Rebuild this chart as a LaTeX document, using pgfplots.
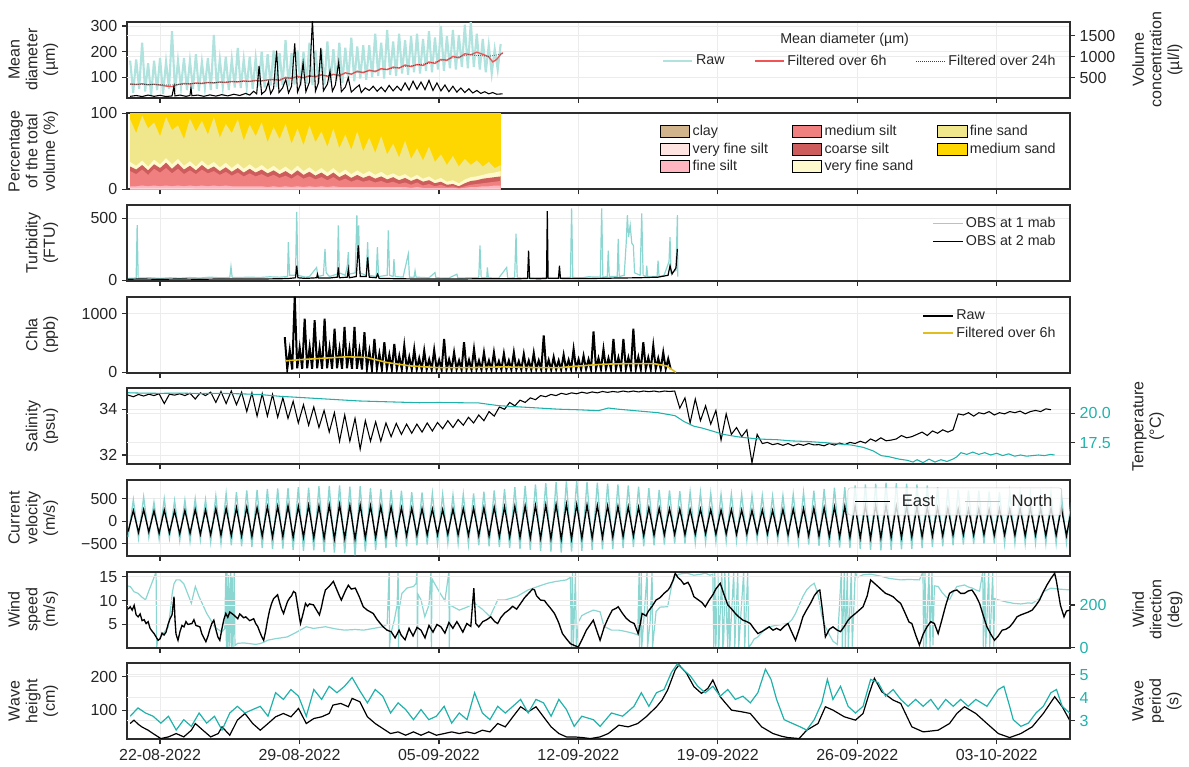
\documentclass[border=0pt]{standalone}
\usepackage{fontspec}
\setmainfont{Liberation Sans}
\usepackage{pgfplots}
\usepackage{pgfplotstable}
\pgfplotsset{compat=1.18}

\definecolor{txt}{RGB}{38,38,38}
\definecolor{frame}{RGB}{45,45,45}
\definecolor{gridc}{RGB}{236,236,236}
\definecolor{rawteal}{RGB}{176,226,222}
\definecolor{lteal}{RGB}{140,214,209}
\definecolor{teal2}{RGB}{32,178,170}
\definecolor{redf}{RGB}{240,85,85}
\definecolor{chlay}{RGB}{225,190,30}
\definecolor{clay}{RGB}{210,180,140}
\definecolor{vfsilt}{RGB}{255,228,225}
\definecolor{fsilt}{RGB}{255,182,193}
\definecolor{msilt}{RGB}{240,128,128}
\definecolor{csilt}{RGB}{205,92,92}
\definecolor{vfsand}{RGB}{255,250,205}
\definecolor{fsand}{RGB}{240,230,140}
\definecolor{msand}{RGB}{255,215,0}

\pgfplotsset{
  base/.style={
    scale only axis, width=707.25pt, height=57pt,
    xmin=-1.66, xmax=45.68,
    tick align=outside, major tick length=3.75pt,
    axis line style={draw=frame, line width=1.5pt},
    every tick/.style={draw=frame, line width=0.9pt},
    major grid style={draw=gridc, line width=0.6pt},
    tick label style={font=\fontsize{12}{14}\selectfont, text=txt},
    /pgf/number format/assume math mode=true,
    /pgf/number format/1000 sep={},
    label style={font=\fontsize{12}{13.2}\selectfont, text=txt, align=center},
    legend style={font=\fontsize{10.7}{13}\selectfont, text=txt, draw=none, fill=none},
    legend cell align=left,
  },
  lpanel/.style={base,
    xtick={0,7,...,42}, xticklabels={},
    xtick pos=bottom, ytick pos=left,
    xmajorgrids, ymajorgrids,
    extra y tick labels={},
    extra tick style={grid=major, major tick length=0pt},
    ylabel style={at={(rel axis cs:-0.068,0.5)}, anchor=south},
  },
  rpanel/.style={base,
    axis x line=none, axis y line*=right,
    ylabel style={at={(rel axis cs:1.061,0.5)}, anchor=north},
  },
  lineleg/.style={legend image code/.code={\draw[##1] (0pt,0pt) -- (22pt,0pt);}},
  patchleg/.style={legend image code/.code={\fill[##1] (0pt,-4.5pt) rectangle (22pt,4.5pt);}},
}

% grain-size classes, cumulative tops (%): fine silt, medium silt, coarse silt, very fine sand, fine sand
\pgfplotstableread{
t c d e f g
-1.5 4 24 30 36 92
-1.2 4 20 26 31 74
-0.9 5 26 32 38 97
-0.6 4 19 25 30 80
-0.3 5 27 33 39 88
0.0 4 22 28 33 70
0.3 5 28 35 41 95
0.6 4 21 27 33 78
0.9 5 27 34 40 84
1.2 4 20 26 31 66
1.5 5 25 31 37 93
1.8 4 20 25 30 76
2.1 5 26 32 38 90
2.4 4 21 26 31 72
2.7 5 24 30 36 95
3.0 4 19 24 29 68
3.3 5 23 29 35 86
3.6 4 18 23 28 74
3.9 4 22 28 34 92
4.2 4 17 22 27 64
4.5 4 21 27 33 85
4.8 4 17 22 27 70
5.1 4 20 26 32 88
5.4 3 16 21 26 62
5.7 4 19 25 31 82
6.0 3 15 20 25 66
6.3 4 18 24 30 86
6.6 3 14 19 24 60
6.9 4 19 25 31 80
7.2 3 14 19 24 58
7.5 4 17 23 29 84
7.8 3 13 18 23 62
8.1 4 16 22 28 76
8.4 3 12 17 22 56
8.7 4 16 22 28 80
9.0 3 11 16 21 54
9.3 3 14 20 26 72
9.6 3 10 15 20 52
9.9 3 13 19 25 76
10.2 3 10 15 20 50
10.5 3 12 18 24 68
10.8 3 9 14 19 48
11.1 3 11 17 23 70
11.4 3 8 13 18 46
11.7 3 10 16 21 60
12.0 3 7 12 17 42
12.3 3 9 15 20 64
12.6 2 6 11 15 40
12.9 3 9 14 19 54
13.2 2 5 10 14 38
13.5 2 7 12 17 56
13.8 2 4 8 12 36
14.1 2 6 10 15 46
14.4 2 3 6 10 32
14.7 2 4 7 12 44
15.0 1 2 4 8 30
15.3 2 4 8 13 40
15.6 3 6 11 16 32
15.9 3 7 12 17 38
16.2 4 8 14 19 30
16.5 4 9 15 21 36
16.8 5 10 16 22 28
17.1 5 11 17 24 32
}\psd

% tidal currents, one row per half tidal cycle
\pgfplotstableread{
N E
-350 -230
480 240
-380 -250
540 260
-360 -240
420 230
-400 -270
500 250
-380 -260
460 230
-430 -280
470 240
-450 -270
500 260
-420 -290
480 250
-470 -300
560 280
-500 -310
620 290
-540 -320
650 300
-560 -330
690 310
-580 -340
700 300
-600 -330
720 320
-620 -350
730 330
-610 -340
740 340
-640 -360
760 330
-660 -350
750 350
-650 -370
780 340
-690 -380
790 360
-700 -390
800 370
-720 -380
770 350
-760 -400
780 360
-680 -370
740 340
-640 -360
720 330
-600 -340
700 320
-580 -330
680 300
-560 -320
650 290
-540 -310
640 280
-520 -300
620 270
-500 -300
600 260
-490 -290
580 270
-500 -300
600 280
-520 -310
620 290
-540 -320
660 300
-560 -330
690 310
-580 -340
720 320
-600 -350
760 330
-620 -360
790 340
-640 -370
820 350
-660 -380
850 360
-680 -390
870 370
-700 -400
890 380
-680 -390
900 370
-660 -380
880 360
-640 -370
860 350
-630 -360
840 340
-620 -350
820 330
-600 -340
800 320
-580 -330
770 310
-560 -320
740 300
-540 -310
700 290
-520 -300
690 280
-500 -290
670 270
-500 -300
650 260
-480 -290
640 270
-470 -280
620 260
-460 -290
600 250
-450 -280
610 260
-440 -290
600 250
-430 -280
580 240
-420 -270
570 250
-420 -280
560 240
-430 -290
570 260
-450 -300
600 270
-480 -310
640 280
-520 -320
680 290
-550 -330
720 300
-570 -340
750 320
-590 -350
760 330
-600 -360
800 340
-620 -370
820 350
-640 -380
840 360
-650 -370
860 350
-640 -360
850 340
-630 -360
840 330
-620 -350
820 320
-600 -340
800 310
-580 -330
760 300
-560 -320
720 290
-540 -310
700 280
-520 -300
690 270
-510 -310
680 280
-500 -300
660 270
-500 -310
650 280
-500 -300
640 270
-490 -310
620 280
-500 -320
610 290
-490 -310
600 280
-500 -320
620 290
-500 -310
600 300
-480 -320
560 280
}\cur

\begin{document}
\begin{tikzpicture}
\useasboundingbox (0,0) rectangle (891.75pt,575.25pt);

%------------------------------------------------ mean diameter
\begin{axis}[lpanel, at={(95.25pt,501.98pt)}, anchor=south west,
  ymin=20.6, ymax=317, ytick={100,200,300},
  extra y ticks={97.94,179.86,261.79},
  ylabel={Mean\\diameter\\(µm)}, lineleg,
  legend columns=3,
  legend style={at={(0.992,0.483)}, anchor=east,
    /tikz/every even column/.append style={column sep=20pt}}]
\addplot[rawteal, line width=1.6pt] table[row sep=\\, x expr={-1.5+0.15*\coordindex}, y index=0] {
d\\ 165\\ 40\\ 170\\ 55\\ 235\\ 45\\ 155\\ 30\\ 165\\ 50\\
175\\ 35\\ 160\\ 55\\ 280\\ 45\\ 165\\ 60\\ 175\\ 50\\
165\\ 55\\ 190\\ 48\\ 160\\ 60\\ 175\\ 50\\ 265\\ 55\\
170\\ 62\\ 180\\ 50\\ 170\\ 60\\ 215\\ 58\\ 170\\ 62\\
180\\ 55\\ 175\\ 65\\ 200\\ 60\\ 190\\ 68\\ 205\\ 62\\
195\\ 70\\ 245\\ 65\\ 195\\ 72\\ 205\\ 68\\ 200\\ 75\\
235\\ 70\\ 205\\ 78\\ 210\\ 72\\ 240\\ 80\\ 210\\ 85\\
235\\ 78\\ 215\\ 90\\ 255\\ 85\\ 220\\ 95\\ 225\\ 90\\
225\\ 100\\ 270\\ 105\\ 235\\ 95\\ 285\\ 110\\ 240\\ 105\\
270\\ 115\\ 245\\ 110\\ 260\\ 120\\ 270\\ 115\\ 250\\ 125\\
280\\ 120\\ 255\\ 130\\ 300\\ 125\\ 260\\ 135\\ 285\\ 130\\
265\\ 140\\ 305\\ 135\\ 315\\ 140\\ 270\\ 130\\ 250\\ 120\\
225\\ 115\\ 210\\ 130\\ 230\\
};
\addplot[redf, line width=1pt] coordinates {
(-1.5,74)(-1.2,72)(-0.9,75)(-0.6,71)(-0.3,73)(0,70)(0.3,66)(0.6,64)(0.9,72)(1.2,76)
(1.5,74)(1.8,78)(2.1,76)(2.4,80)(2.7,78)(3.0,82)(3.3,80)(3.6,84)(3.9,82)(4.2,86)
(4.5,84)(4.8,88)(5.1,86)(5.4,90)(5.7,92)(6.0,88)(6.3,100)(6.6,96)(6.9,104)(7.2,98)
(7.5,106)(7.8,102)(8.1,110)(8.4,104)(8.7,112)(9.0,106)(9.3,118)(9.6,112)(9.9,124)(10.2,118)
(10.5,128)(10.8,122)(11.1,134)(11.4,130)(11.7,140)(12.0,136)(12.3,148)(12.6,142)(12.9,150)(13.2,146)
(13.5,160)(13.8,154)(14.1,170)(14.4,166)(14.7,182)(15.0,176)(15.3,192)(15.6,188)(15.9,198)(16.2,190)
(16.5,180)(16.7,160)(16.9,170)(17.1,190)(17.2,196)};
\addplot[black!75, densely dotted, line width=0.5pt] coordinates {
(-1.5,73)(-0.5,72)(0.5,70)(1.5,75)(2.5,79)(3.5,82)(4.5,85)(5.5,89)(6.5,97)(7.5,103)
(8.5,108)(9.5,115)(10.5,124)(11.5,133)(12.5,144)(13.5,155)(14.5,172)(15.5,188)(16.5,182)(17.2,192)};
\addlegendimage{rawteal, line width=0.9pt}
\addlegendentry{Raw}
\addlegendimage{redf, line width=1pt}
\addlegendentry{Filtered over 6h}
\addlegendimage{black!75, densely dotted, line width=0.5pt}
\addlegendentry{Filtered over 24h}
\node[font=\fontsize{10.7}{13}\selectfont, text=txt] at (rel axis cs:0.761,0.76) {Mean diameter (µm)};
\end{axis}
\begin{axis}[rpanel, at={(95.25pt,501.98pt)}, anchor=south west,
  ymin=28, ymax=1837, ytick={500,1000,1500},
  ylabel={Volume\\concentration\\(µl/l)}]
\addplot[black, line width=0.8pt] coordinates {
(-1.5,60)(-1.2,80)(-0.9,55)(-0.6,90)(-0.3,60)(0,85)(0.3,55)(0.6,70)(0.7,300)(0.75,70)
(1.0,90)(1.3,60)(1.5,80)(1.55,270)(1.6,75)(1.9,90)(2.2,60)(2.5,95)(2.8,65)(3.1,100)
(3.4,70)(3.7,110)(4.0,80)(4.3,130)(4.5,90)(4.7,180)(4.85,120)(4.97,783)(5.1,110)(5.3,200)
(5.44,400)(5.55,120)(5.7,250)(5.85,1150)(5.97,150)(6.15,260)(6.31,460)(6.45,140)(6.6,300)(6.76,1320)
(6.9,160)(7.05,350)(7.18,860)(7.32,170)(7.5,400)(7.65,1900)(7.72,1050)(7.8,180)(7.95,380)(8.07,1210)
(8.2,190)(8.4,350)(8.53,660)(8.65,180)(8.8,330)(8.97,880)(9.1,170)(9.3,280)(9.45,500)(9.6,160)
(9.8,250)(10.0,330)(10.1,150)(10.3,260)(10.5,200)(10.7,300)(10.9,180)(11.1,280)(11.3,170)(11.5,320)
(11.7,190)(11.9,300)(12.1,200)(12.3,380)(12.5,210)(12.7,420)(12.9,230)(13.1,400)(13.3,220)(13.5,440)
(13.7,200)(13.9,380)(14.1,190)(14.3,330)(14.5,170)(14.7,300)(14.9,160)(15.1,260)(15.3,150)(15.5,240)
(15.7,140)(15.9,200)(16.1,130)(16.3,170)(16.5,120)(16.7,150)(16.9,110)(17.2,120)};
\end{axis}

%------------------------------------------------ grain size distribution
\begin{axis}[lpanel, at={(95.25pt,433.24pt)}, anchor=south west,
  ymin=0, ymax=100, ytick={0,100},
  ylabel={Percentage\\of the total\\volume (\%)}, patchleg,
  legend columns=3, transpose legend,
  legend style={at={(0.992,0.92)}, anchor=north east,
    /tikz/every even column/.append style={column sep=16pt},
    /tikz/every row/.append style={row sep=2.5pt}}]
\addplot[fill=msand, draw=none, forget plot] coordinates {(-1.5,100)(17.1,100)} \closedcycle;
\addplot[fill=fsand, draw=none, forget plot] table[x=t, y=g] {\psd} \closedcycle;
\addplot[fill=vfsand, draw=none, forget plot] table[x=t, y=f] {\psd} \closedcycle;
\addplot[fill=csilt, draw=none, forget plot] table[x=t, y=e] {\psd} \closedcycle;
\addplot[fill=msilt, draw=none, forget plot] table[x=t, y=d] {\psd} \closedcycle;
\addplot[fill=fsilt, draw=none, forget plot] table[x=t, y=c] {\psd} \closedcycle;
\addplot[fill=vfsilt, draw=none, forget plot] coordinates {(-1.5,1.2)(5,1.0)(10,0.9)(15,0.6)(17.1,1.0)} \closedcycle;
\addplot[fill=clay, draw=none, forget plot] coordinates {(-1.5,0.4)(5,0.3)(10,0.3)(15,0.2)(17.1,0.3)} \closedcycle;
\addlegendimage{fill=clay}\addlegendentry{clay}
\addlegendimage{fill=vfsilt}\addlegendentry{very fine silt}
\addlegendimage{fill=fsilt}\addlegendentry{fine silt}
\addlegendimage{fill=msilt}\addlegendentry{medium silt}
\addlegendimage{fill=csilt}\addlegendentry{coarse silt}
\addlegendimage{fill=vfsand}\addlegendentry{very fine sand}
\addlegendimage{fill=fsand}\addlegendentry{fine sand}
\addlegendimage{fill=msand}\addlegendentry{medium sand}
\end{axis}

%------------------------------------------------ turbidity
\begin{axis}[lpanel, at={(95.25pt,364.50pt)}, anchor=south west,
  ymin=-6, ymax=608, ytick={0,500},
  ylabel={Turbidity\\(FTU)}, lineleg,
  legend style={at={(0.992,0.91)}, anchor=north east}]
\addplot[lteal, line width=0.9pt] coordinates {
(-1.6,15)(-1.2,18)(-1.15,445)(-1.1,18)(-0.5,20)(0,15)(0.5,20)(1,16)(1.5,22)(2,18)
(2.5,25)(3,20)(3.5,22)(3.56,110)(3.62,22)(4,22)(4.5,25)(5,22)(5.5,28)(6,25)
(6.4,30)(6.44,308)(6.5,40)(6.8,40)(6.86,553)(6.92,40)(7.3,25)(7.5,30)(7.86,103)(7.92,30)
(8.2,40)(8.28,253)(8.34,60)(8.5,30)(8.9,50)(8.95,444)(9.0,60)(9.3,40)(9.4,120)(9.45,226)
(9.5,50)(9.8,60)(9.88,526)(9.93,200)(9.97,444)(10.02,60)(10.35,40)(10.42,308)(10.48,40)(10.85,30)
(10.91,267)(10.97,30)(11.4,40)(11.46,403)(11.52,40)(11.7,30)(11.74,171)(11.8,30)(12.2,25)(12.46,212)
(12.52,25)(12.75,25)(12.8,76)(12.85,25)(13.5,20)(13.8,62)(13.85,20)(14.5,18)(14.9,49)(14.95,18)
(15.5,20)(16.0,20)(16.06,281)(16.12,20)(16.4,20)(16.43,103)(16.48,20)(17.0,18)(17.4,103)(17.45,18)
(17.8,20)(17.87,376)(17.93,20)(18.5,18)(19,20)(19.5,22)(20,20)(20.6,22)(20.66,581)(20.72,22)
(21.2,20)(21.5,28)(22.1,25)(22.17,581)(22.23,25)(22.45,30)(22.5,240)(22.55,30)(22.95,30)(23.0,335)
(23.05,30)(23.3,40)(23.4,300)(23.46,526)(23.52,350)(23.6,444)(23.68,300)(23.76,281)(23.82,60)(24.1,40)
(24.18,540)(24.25,40)(24.4,30)(24.43,117)(24.48,30)(24.95,30)(25.0,158)(25.05,30)(25.3,40)(25.55,150)
(25.6,349)(25.65,60)(25.9,80)(25.97,526)(25.99,30)};
\addlegendentry{OBS at 1 mab}
\addplot[black, line width=0.9pt] coordinates {
(-1.6,8)(-1,10)(0,8)(1,10)(2,8)(3,10)(4,10)(5,10)(6,12)(6.5,15)
(6.8,20)(6.86,117)(6.92,20)(7.3,15)(7.86,20)(7.9,49)(7.95,18)(8.5,18)(8.9,25)(8.95,103)
(9.0,20)(9.4,25)(9.45,90)(9.5,20)(9.85,30)(9.95,281)(10.05,30)(10.35,30)(10.42,185)(10.5,25)
(10.85,20)(10.92,49)(11.0,15)(12,12)(13,10)(14,10)(15,10)(16,12)(17,12)(18,12)
(18.45,15)(18.5,240)(18.55,15)(19,12)(19.4,15)(19.44,559)(19.48,15)(20.0,15)(20.05,117)(20.1,15)
(21,14)(22,15)(23,18)(24,20)(25,25)(25.5,40)(25.6,117)(25.7,50)(25.9,100)(25.97,253)};
\addlegendentry{OBS at 2 mab}
\end{axis}

%------------------------------------------------ chlorophyll
\begin{axis}[lpanel, at={(95.25pt,295.76pt)}, anchor=south west,
  ymin=-5, ymax=1290, ytick={0,1000},
  ylabel={Chla\\(ppb)}, lineleg,
  legend style={at={(0.992,0.90)}, anchor=north east}]
\addplot[black, line width=1.5pt] table[row sep=\\, x expr={6.26+0.125*\coordindex}, y index=0] {
c\\ 600\\ 60\\ 380\\ 50\\ 1290\\ 70\\ 420\\ 60\\ 916\\ 70\\ 430\\ 60\\ 887\\ 70\\ 420\\ 60\\
916\\ 70\\ 420\\ 60\\ 743\\ 70\\ 400\\ 60\\ 772\\ 70\\ 400\\ 60\\ 772\\ 60\\ 380\\ 50\\
686\\ 60\\ 360\\ 50\\ 571\\ 60\\ 320\\ 50\\ 513\\ 60\\ 300\\ 50\\ 484\\ 55\\ 280\\ 50\\
455\\ 55\\ 260\\ 50\\ 398\\ 50\\ 240\\ 45\\ 369\\ 50\\ 220\\ 45\\ 380\\ 50\\ 210\\ 45\\
571\\ 50\\ 220\\ 45\\ 340\\ 50\\ 200\\ 45\\ 513\\ 50\\ 210\\ 45\\ 398\\ 50\\ 200\\ 45\\
340\\ 50\\ 200\\ 45\\ 340\\ 50\\ 190\\ 45\\ 320\\ 50\\ 200\\ 45\\ 340\\ 50\\ 190\\ 45\\
312\\ 50\\ 200\\ 45\\ 330\\ 50\\ 200\\ 45\\ 628\\ 50\\ 210\\ 45\\ 260\\ 50\\ 200\\ 45\\
300\\ 55\\ 210\\ 50\\ 398\\ 55\\ 220\\ 50\\ 283\\ 55\\ 220\\ 50\\ 697\\ 60\\ 240\\ 55\\
398\\ 60\\ 240\\ 55\\ 571\\ 60\\ 250\\ 55\\ 571\\ 60\\ 250\\ 55\\ 743\\ 60\\ 260\\ 55\\
513\\ 60\\ 250\\ 55\\ 455\\ 60\\ 240\\ 55\\ 340\\ 60\\ 230\\ 55\\
};
\addlegendentry{Raw}
\addplot[chlay, line width=1.2pt] coordinates {
(6.33,197)(7,215)(8.03,237)(9.37,265)(10.37,254)(11.38,168)(12.55,110)(13.89,81)(15.56,81)(17.24,93)
(18.91,81)(20.08,81)(21.08,110)(22.26,139)(23.6,150)(24.77,150)(25.43,110)(25.85,12)(25.9,0)};
\addlegendentry{Filtered over 6h}
\end{axis}

%------------------------------------------------ salinity / temperature
\begin{axis}[lpanel, at={(95.25pt,227.03pt)}, anchor=south west,
  ymin=31.59, ymax=34.92, ytick={32,34},
  extra y ticks={32.537,33.824},
  ylabel={Salinity\\(psu)}]
\addplot[black, line width=0.8pt] table[row sep=\\, x expr={-1.6+0.2588*\coordindex}, y index=0] {
s\\ 34.62\\ 34.55\\ 34.65\\ 34.58\\ 34.66\\ 34.60\\ 34.68\\ 34.25\\ 34.66\\ 34.62\\
34.68\\ 34.60\\ 34.70\\ 34.45\\ 34.72\\ 34.60\\ 34.75\\ 34.30\\ 34.78\\ 34.25\\
34.80\\ 34.20\\ 34.75\\ 33.90\\ 34.72\\ 33.70\\ 34.68\\ 33.70\\ 34.65\\ 33.65\\
34.50\\ 33.60\\ 34.35\\ 33.40\\ 34.20\\ 33.30\\ 34.10\\ 33.20\\ 33.95\\ 33.00\\
33.85\\ 32.60\\ 33.75\\ 32.60\\ 33.60\\ 32.25\\ 33.50\\ 32.60\\ 33.45\\ 32.60\\
33.40\\ 32.80\\ 33.38\\ 32.90\\ 33.35\\ 32.95\\ 33.35\\ 33.00\\ 33.40\\ 33.05\\
33.42\\ 33.15\\ 33.50\\ 33.20\\ 33.55\\ 33.30\\ 33.65\\ 33.40\\ 33.75\\ 33.50\\
33.90\\ 33.70\\ 34.10\\ 34.00\\ 34.30\\ 34.15\\ 34.40\\ 34.30\\ 34.50\\ 34.42\\
34.60\\ 34.55\\ 34.65\\ 34.60\\ 34.70\\ 34.65\\ 34.72\\ 34.68\\ 34.75\\ 34.70\\
34.76\\ 34.72\\ 34.78\\ 34.74\\ 34.78\\ 34.75\\ 34.80\\ 34.76\\ 34.80\\ 34.76\\
34.80\\ 34.77\\ 34.80\\ 34.76\\ 34.80\\ 34.78\\ 34.80\\ 34.05\\ 34.50\\ 33.40\\
34.45\\ 33.50\\ 34.15\\ 33.35\\ 33.95\\ 32.65\\ 33.80\\ 32.90\\ 33.20\\ 32.80\\
33.10\\ 31.65\\ 32.90\\ 32.50\\ 32.55\\ 32.45\\ 32.50\\ 32.42\\ 32.50\\ 32.40\\
32.48\\ 32.42\\ 32.50\\ 32.44\\ 32.45\\ 32.40\\ 32.50\\ 32.43\\ 32.52\\ 32.45\\
32.55\\ 32.50\\ 32.60\\ 32.52\\ 32.70\\ 32.60\\ 32.75\\ 32.62\\ 32.65\\ 32.70\\
32.85\\ 32.75\\ 32.80\\ 32.90\\ 33.00\\ 32.85\\ 33.05\\ 32.95\\ 33.10\\ 33.00\\
33.10\\ 33.80\\ 33.75\\ 33.85\\ 33.70\\ 33.85\\ 33.80\\ 33.90\\ 33.75\\ 33.85\\
33.80\\ 33.90\\ 33.85\\ 33.92\\ 33.80\\ 33.90\\ 33.95\\ 33.90\\ 34.02\\ 33.98\\
};
\end{axis}
\begin{axis}[rpanel, at={(95.25pt,227.03pt)}, anchor=south west,
  ymin=15.66, ymax=22.13, ytick={17.5,20}, yticklabels={17.5,20.0},
  yticklabel style={text=teal2},
  ylabel={Temperature\\(°C)}]
\addplot[teal2, line width=0.8pt] coordinates {
(-1.6,21.75)(-1,21.72)(0,21.7)(1,21.72)(2,21.68)(3,21.7)(4,21.66)(5,21.6)(6,21.45)(7,21.35)
(8,21.25)(9,21.15)(10,21.05)(11,21.0)(12,20.95)(13,20.9)(14,20.92)(15,20.9)(16,20.88)(17,20.65)
(18,20.55)(19,20.45)(20,20.35)(21,20.3)(22,20.22)(22.5,20.45)(23,20.35)(24,20.2)(25,20.05)(25.85,19.8)
(26.3,19.3)(26.8,18.9)(27.2,18.75)(27.7,18.5)(28.3,18.2)(29,18.0)(29.5,17.9)(30.2,17.8)(31,17.75)(31.7,17.65)
(32.5,17.6)(33.4,17.5)(34,17.4)(34.7,17.3)(35.3,17.1)(35.8,16.8)(36.2,16.4)(36.6,16.3)(37.1,16.1)(37.5,16.0)
(37.8,15.85)(38.0,16.05)(38.3,15.8)(38.6,16.1)(38.9,15.85)(39.2,16.05)(39.5,15.9)(39.8,16.1)(40.0,16.3)(40.2,16.65)
(40.5,16.5)(40.8,16.7)(41.1,16.5)(41.4,16.65)(41.7,16.45)(42.0,16.6)(42.3,16.4)(42.6,16.55)(42.9,16.35)(43.2,16.45)
(43.5,16.35)(43.8,16.4)(44.1,16.45)(44.4,16.4)(44.7,16.5)(44.9,16.45)};
\end{axis}

%------------------------------------------------ current velocity
\begin{axis}[lpanel, at={(95.25pt,158.29pt)}, anchor=south west,
  ymin=-776, ymax=922, ytick={-500,0,500}, yticklabels={−500,0,500},
  ylabel={Current\\velocity\\(m/s)},
  legend columns=2,
  legend style={at={(0.9915,0.90)}, anchor=north east, draw=black!20, fill=white,
    fill opacity=0.8, draw opacity=1, text opacity=1, rounded corners=2pt,
    font=\fontsize{12.5}{14}\selectfont, inner xsep=5pt, inner ysep=3pt,
    /tikz/every odd column/.append style={column sep=6pt},
    /tikz/every even column/.append style={column sep=20pt}},
  legend image code/.code={\draw[#1, line width=1.4pt, opacity=1] (0pt,0pt) -- (26pt,0pt);}]
\addplot[lteal, line width=1pt, forget plot] table[x expr={-1.6+0.2588*\coordindex}, y=N] {\cur};
\addplot[black, line width=1pt] table[x expr={-1.6+0.2588*\coordindex}, y=E] {\cur};
\addlegendentry{East}
\addlegendimage{lteal}
\addlegendentry{North}
\end{axis}

%------------------------------------------------ wind (direction drawn first, speed on top)
\begin{axis}[rpanel, at={(95.25pt,89.55pt)}, anchor=south west,
  ymin=0, ymax=357, ytick={0,200},
  yticklabel style={text=teal2},
  ylabel={Wind\\direction\\(deg)}]
\addplot[lteal, line width=0.9pt] coordinates {
(-1.66,290)(-1.5,287)(-1.3,262)(-1.11,255)(-0.92,238)(-0.73,224)(-0.55,270)(-0.35,318)(-0.2,356)(-0.17,2)
(-0.12,30)(0.04,50)(0.23,75)(0.42,98)(0.55,200)(0.61,255)(0.7,300)(0.81,318)(1.0,318)(1.19,300)
(1.38,255)(1.57,208)(1.77,287)(1.96,239)(2.15,200)(2.34,161)(2.54,130)(2.73,98)(2.92,85)(3.11,74)
(3.25,90)(3.3,357)(3.33,0)(3.36,355)(3.4,2)(3.45,340)(3.48,5)(3.55,350)(3.58,3)(3.62,330)
(3.66,0)(3.72,357)(3.76,10)(3.9,20)(4.2,22)(4.46,19)(4.8,15)(5.03,19)(5.2,25)(5.42,35)
(5.8,42)(6.38,50)(6.8,70)(7.34,98)(7.7,90)(8.3,98)(8.8,88)(9.26,82)(9.8,85)(10.22,82)
(10.7,90)(11.18,98)(11.4,110)(11.5,357)(11.52,0)(11.57,60)(11.76,129)(11.9,200)(11.95,357)(11.97,0)
(12.0,180)(12.14,255)(12.4,280)(12.72,287)(12.85,300)(12.9,357)(12.92,0)(12.95,250)(13.1,224)(13.29,145)
(13.5,200)(13.6,357)(13.62,0)(13.65,300)(13.68,318)(14.06,255)(14.3,220)(14.5,357)(14.52,0)(14.55,200)
(15.02,176)(15.41,190)(15.79,208)(16.18,180)(16.56,145)(16.95,224)(17.33,224)(17.91,240)(18.48,271)(19.06,290)
(19.44,302)(19.83,310)(20.4,318)(20.6,330)(20.65,0)(20.7,357)(20.75,5)(20.85,350)(20.9,0)(21.0,120)
(21.17,150)(21.36,160)(21.75,176)(22.09,168)(22.28,100)(22.66,82)(23.03,82)(23.41,75)(23.79,66)(23.98,60)
(24.05,357)(24.07,0)(24.1,80)(24.16,357)(24.18,0)(24.3,150)(24.45,357)(24.47,0)(24.6,120)(24.7,357)
(24.72,0)(24.9,170)(25.1,190)(25.48,192)(25.7,300)(25.86,334)(26.05,345)(26.43,350)(26.8,340)(27.18,345)
(27.37,350)(27.6,340)(27.75,345)(27.8,0)(27.85,350)(27.9,5)(28.0,357)(28.05,0)(28.2,355)(28.25,0)
(28.3,40)(28.35,357)(28.5,2)(28.55,350)(28.6,0)(28.8,357)(28.85,0)(29.0,355)(29.05,3)(29.3,357)
(29.35,0)(29.5,356)(29.55,0)(29.7,20)(29.82,40)(30.01,50)(30.2,70)(30.39,90)(30.58,98)(30.95,105)
(31.33,110)(31.52,113)(31.71,130)(31.9,160)(32.08,200)(32.27,240)(32.46,271)(32.65,290)(32.84,302)(33.03,250)
(33.22,150)(33.4,98)(33.6,60)(33.78,30)(34.0,15)(34.2,357)(34.25,0)(34.35,357)(34.4,0)(34.5,350)
(34.55,0)(34.7,356)(34.75,5)(34.9,357)(35.0,330)(35.29,342)(35.67,345)(36.05,338)(36.23,334)(36.6,325)
(37.18,318)(37.6,320)(38.12,318)(38.3,357)(38.33,0)(38.4,356)(38.45,0)(38.6,357)(38.65,0)(38.75,355)
(38.8,10)(38.87,290)(39.06,287)(39.25,260)(39.44,240)(39.63,224)(39.82,260)(40.0,287)(40.19,290)(40.38,294)
(40.57,285)(40.76,280)(40.95,271)(41.14,265)(41.3,357)(41.33,0)(41.4,355)(41.45,0)(41.6,357)(41.65,0)
(41.8,350)(41.85,5)(41.89,230)(42.08,224)(42.46,215)(42.83,208)(43.21,205)(43.59,210)(43.78,208)(44.15,230)
(44.34,263)(44.72,279)(45.1,275)(45.66,271)};
\end{axis}
\begin{axis}[lpanel, at={(95.25pt,89.55pt)}, anchor=south west,
  ymin=0.17, ymax=16.05, ytick={5,10,15},
  extra y ticks={9.066},
  ylabel={Wind\\speed\\(m/s)}]
\addplot[black, line width=1pt] coordinates {
(-1.6,8.2)(-1.5,8.7)(-1.4,8.0)(-1.3,9.0)(-1.2,7.0)(-1.1,6.6)(-1.0,7.2)(-0.9,5.8)(-0.8,6.0)(-0.7,5.2)
(-0.6,5.6)(-0.5,4.2)(-0.4,3.6)(-0.3,3.1)(-0.2,2.4)(-0.1,1.7)(0.0,2.0)(0.1,3.2)(0.2,2.8)(0.3,3.4)
(0.4,5.0)(0.5,6.2)(0.6,7.0)(0.7,10.8)(0.75,6.0)(0.8,3.0)(0.9,1.7)(1.0,3.5)(1.1,4.8)(1.2,4.5)
(1.3,5.6)(1.4,5.0)(1.6,5.2)(1.7,6.0)(1.8,4.8)(2.0,4.5)(2.1,3.0)(2.2,2.2)(2.3,1.4)(2.4,2.5)
(2.5,4.0)(2.6,5.2)(2.7,5.9)(2.8,4.0)(2.9,2.4)(3.0,1.7)(3.1,4.0)(3.2,6.0)(3.3,7.3)(3.4,6.5)
(3.5,7.6)(3.7,7.0)(3.9,6.2)(4.0,7.2)(4.2,6.4)(4.3,6.6)(4.5,5.8)(4.7,6.2)(4.8,5.2)(4.9,4.6)
(5.0,3.5)(5.1,2.5)(5.2,1.7)(5.3,3.6)(5.4,6.0)(5.5,8.0)(5.6,9.4)(5.7,10.4)(5.8,10.8)(5.9,11.2)
(6.0,9.6)(6.1,8.2)(6.2,7.3)(6.3,8.6)(6.4,9.8)(6.5,10.5)(6.6,11.0)(6.7,11.9)(6.8,11.6)(6.9,9.0)
(7.0,6.4)(7.05,5.2)(7.2,7.6)(7.3,9.4)(7.4,8.8)(7.5,9.3)(7.7,9.1)(7.8,8.4)(8.0,7.0)(8.1,8.6)
(8.2,10.6)(8.3,12.2)(8.5,13.0)(8.7,14.0)(8.8,13.0)(9.0,11.0)(9.1,10.1)(9.3,12.0)(9.45,13.2)(9.6,12.4)
(9.8,12.6)(10.0,10.8)(10.2,8.7)(10.4,8.0)(10.7,7.3)(10.9,6.0)(11.2,4.5)(11.4,3.8)(11.6,3.5)(11.8,2.2)
(12.0,3.8)(12.1,2.8)(12.3,1.8)(12.5,4.2)(12.7,2.6)(12.9,4.4)(13.1,3.8)(13.3,2.2)(13.5,4.8)(13.7,3.4)
(13.9,5.0)(14.1,4.5)(14.3,3.2)(14.5,5.4)(14.7,4.2)(14.9,5.6)(15.0,4.9)(15.2,3.4)(15.4,5.2)(15.6,4.6)
(15.75,12.6)(15.85,5.2)(16.0,4.5)(16.2,5.6)(16.4,6.0)(16.6,6.6)(16.8,5.6)(16.95,5.2)(17.1,6.4)(17.3,7.4)
(17.5,8.0)(17.7,8.8)(17.9,8.2)(18.1,9.4)(18.3,10.6)(18.5,11.5)(18.7,12.4)(18.8,12.2)(18.9,11.0)(19.1,10.1)
(19.3,10.0)(19.4,9.4)(19.6,8.4)(19.8,7.3)(20.0,5.5)(20.2,3.1)(20.4,2.0)(20.6,1.0)(20.8,0.6)(21.0,0.3)
(21.2,2.0)(21.4,3.8)(21.6,5.0)(21.75,5.9)(21.9,4.0)(22.09,1.7)(22.3,4.5)(22.5,6.4)(22.7,8.0)(22.9,8.4)
(23.0,8.7)(23.2,7.4)(23.4,6.3)(23.6,5.6)(23.8,5.2)(24.0,3.1)(24.1,5.0)(24.2,7.3)(24.4,6.8)(24.5,7.7)
(24.7,8.8)(24.9,10.1)(25.1,10.6)(25.3,11.5)(25.5,12.2)(25.6,12.8)(25.75,14.2)(25.86,15.7)(26.0,14.8)(26.14,14.3)
(26.3,13.4)(26.5,13.8)(26.62,12.9)(26.8,10.8)(27.0,10.2)(27.2,9.6)(27.37,8.7)(27.55,10.0)(27.75,11.2)(27.9,12.4)
(28.12,13.6)(28.3,11.4)(28.5,9.1)(28.7,8.2)(28.88,7.3)(29.05,6.6)(29.26,5.9)(29.45,5.6)(29.63,5.2)(29.8,4.2)
(30.01,3.1)(30.2,3.5)(30.4,4.0)(30.58,4.5)(30.77,3.8)(30.95,4.2)(31.14,3.8)(31.33,4.6)(31.52,5.2)(31.7,3.5)
(31.9,1.7)(32.1,4.2)(32.27,6.6)(32.45,8.0)(32.65,9.4)(32.84,11.0)(32.93,11.5)(33.03,12.0)(33.12,12.2)(33.25,8.0)
(33.40,2.4)(33.6,4.0)(33.78,4.5)(34.0,3.8)(34.16,3.5)(34.35,4.6)(34.54,5.9)(34.7,6.6)(34.91,7.3)(35.1,8.0)
(35.29,8.7)(35.5,11.0)(35.67,14.3)(35.86,13.6)(36.05,12.9)(36.23,12.2)(36.42,11.5)(36.6,11.2)(36.8,10.8)(37.0,10.0)
(37.18,9.4)(37.4,7.4)(37.6,5.5)(37.74,5.2)(37.93,2.8)(38.12,0.7)(38.31,3.0)(38.5,4.5)(38.69,5.6)(38.87,5.2)
(39.06,3.1)(39.25,6.0)(39.44,9.0)(39.63,11.5)(39.82,12.0)(40.0,12.2)(40.19,11.5)(40.38,11.5)(40.57,12.0)(40.76,12.2)
(40.95,11.0)(41.14,9.4)(41.33,6.8)(41.51,4.5)(41.7,3.0)(41.89,1.7)(42.08,2.6)(42.27,3.8)(42.46,4.0)(42.65,4.5)
(42.83,5.4)(43.02,6.6)(43.21,7.0)(43.40,7.3)(43.59,7.6)(43.78,8.0)(43.97,9.0)(44.15,10.1)(44.34,11.8)(44.53,13.3)
(44.72,14.6)(44.91,15.7)(45.0,14.0)(45.1,11.5)(45.2,9.0)(45.38,6.6)(45.5,7.8)(45.66,8.0)};
\end{axis}

%------------------------------------------------ waves
\begin{axis}[lpanel, at={(95.25pt,20.81pt)}, anchor=south west,
  ymin=13, ymax=240, ytick={100,200},
  extra y ticks={68.03,136.82,205.61},
  xticklabels={22-08-2022,29-08-2022,05-09-2022,12-09-2022,19-09-2022,26-09-2022,03-10-2022},
  ylabel={Wave\\height\\(cm)}]
\addplot[black, line width=0.9pt] coordinates {
(-1.5,60)(-1.31,70)(-1.1,58)(-0.92,50)(-0.6,40)(-0.35,30)(0.04,15)(0.42,20)(0.81,30)(1.19,20)
(1.57,40)(1.77,60)(2.15,40)(2.54,20)(2.92,30)(3.11,50)(3.5,25)(3.88,70)(4.26,90)(4.65,60)
(5.03,40)(5.42,60)(5.8,80)(6.19,90)(6.57,80)(6.95,105)(7.34,60)(7.72,75)(8.11,80)(8.49,90)
(8.68,115)(9.07,120)(9.45,110)(9.64,135)(10.03,125)(10.41,80)(10.8,60)(11.18,45)(11.57,30)(11.95,35)
(12.33,25)(12.72,35)(13.1,25)(13.49,35)(13.87,25)(14.26,30)(14.64,35)(15.02,30)(15.41,35)(15.79,30)
(16.18,40)(16.56,35)(16.95,60)(17.33,50)(17.71,80)(18.1,110)(18.48,95)(18.87,110)(19.25,80)(19.63,50)
(20.02,30)(20.4,20)(20.79,20)(21.2,18)(21.6,15)(22.09,20)(22.5,30)(23.03,55)(23.5,50)(23.98,60)
(24.4,80)(24.92,110)(25.2,130)(25.48,160)(25.86,220)(26.05,235)(26.43,210)(26.8,170)(27.18,150)(27.5,165)
(27.75,190)(28.12,140)(28.4,120)(28.69,100)(29.2,95)(29.63,90)(30.2,50)(30.77,30)(31.2,22)(31.52,18)
(32.08,15)(32.46,40)(33.03,60)(33.4,110)(33.78,100)(34.35,80)(34.91,70)(35.29,90)(35.6,150)(35.86,195)
(36.23,155)(36.8,130)(37.18,120)(37.5,80)(37.74,50)(38.31,35)(39.06,40)(39.63,60)(40.0,90)(40.38,110)
(40.95,90)(41.51,60)(42.08,30)(42.65,18)(43.21,30)(43.78,50)(44.34,90)(44.91,140)(45.29,110)(45.66,70)};
\end{axis}
\begin{axis}[rpanel, at={(95.25pt,20.81pt)}, anchor=south west,
  ymin=2.2, ymax=5.5, ytick={3,4,5},
  yticklabel style={text=teal2},
  ylabel={Wave\\period\\(s)}]
\addplot[teal2, line width=0.9pt] coordinates {
(-1.5,3.2)(-1.11,3.56)(-0.73,3.34)(-0.35,3.2)(0.04,2.9)(0.42,3.2)(0.81,2.6)(1.19,3.05)(1.57,2.76)(1.96,3.34)
(2.34,2.9)(2.73,3.2)(3.11,2.6)(3.5,3.34)(3.88,3.63)(4.26,3.34)(4.65,3.49)(5.03,3.63)(5.42,3.2)(5.8,4.22)
(6.19,3.93)(6.57,4.36)(6.95,4.07)(7.34,3.2)(7.72,4.36)(8.11,3.93)(8.49,4.5)(8.88,4.22)(9.26,4.5)(9.64,4.88)
(10.03,4.3)(10.41,3.78)(10.8,4.36)(11.18,4.07)(11.57,3.34)(11.95,3.78)(12.33,3.49)(12.72,3.05)(13.1,3.49)(13.49,3.05)
(13.87,3.2)(14.26,3.63)(14.64,2.9)(15.02,3.34)(15.41,3.05)(15.79,4.22)(16.18,3.34)(16.56,3.05)(16.95,3.63)(17.33,3.34)
(17.71,3.63)(18.1,3.93)(18.48,3.34)(18.87,3.93)(19.25,3.78)(19.63,3.2)(20.02,3.93)(20.4,3.49)(20.79,2.76)(21.17,3.2)
(21.75,3.05)(22.09,2.76)(22.66,3.34)(23.22,3.2)(23.79,3.63)(24.16,4.22)(24.54,3.63)(24.92,4.22)(25.3,4.36)(25.67,5.1)
(25.96,5.46)(26.24,5.24)(26.62,4.95)(26.99,4.5)(27.37,4.22)(27.75,4.5)(28.12,4.07)(28.5,4.36)(28.88,3.93)(29.26,4.07)
(29.63,3.78)(30.01,4.22)(30.39,5.24)(30.67,4.8)(30.95,3.93)(31.33,3.05)(31.71,2.9)(32.08,2.76)(32.46,2.6)(32.84,3.05)
(33.22,3.78)(33.5,4.8)(33.78,3.93)(34.16,4.5)(34.54,3.63)(34.91,3.34)(35.29,3.63)(35.67,4.8)(36.05,4.66)(36.42,4.07)
(36.8,4.36)(37.18,3.93)(37.55,3.63)(37.93,3.93)(38.31,3.63)(38.69,3.93)(39.06,3.49)(39.44,3.93)(39.82,3.63)(40.19,3.93)
(40.57,3.63)(40.95,3.93)(41.51,3.63)(42.08,4.36)(42.36,4.5)(42.65,3.63)(42.83,3.05)(43.21,2.76)(43.59,2.9)(43.97,3.34)
(44.34,3.63)(44.72,4.22)(45.0,4.36)(45.29,3.63)(45.66,3.34)};
\end{axis}
\end{tikzpicture}
\end{document}
